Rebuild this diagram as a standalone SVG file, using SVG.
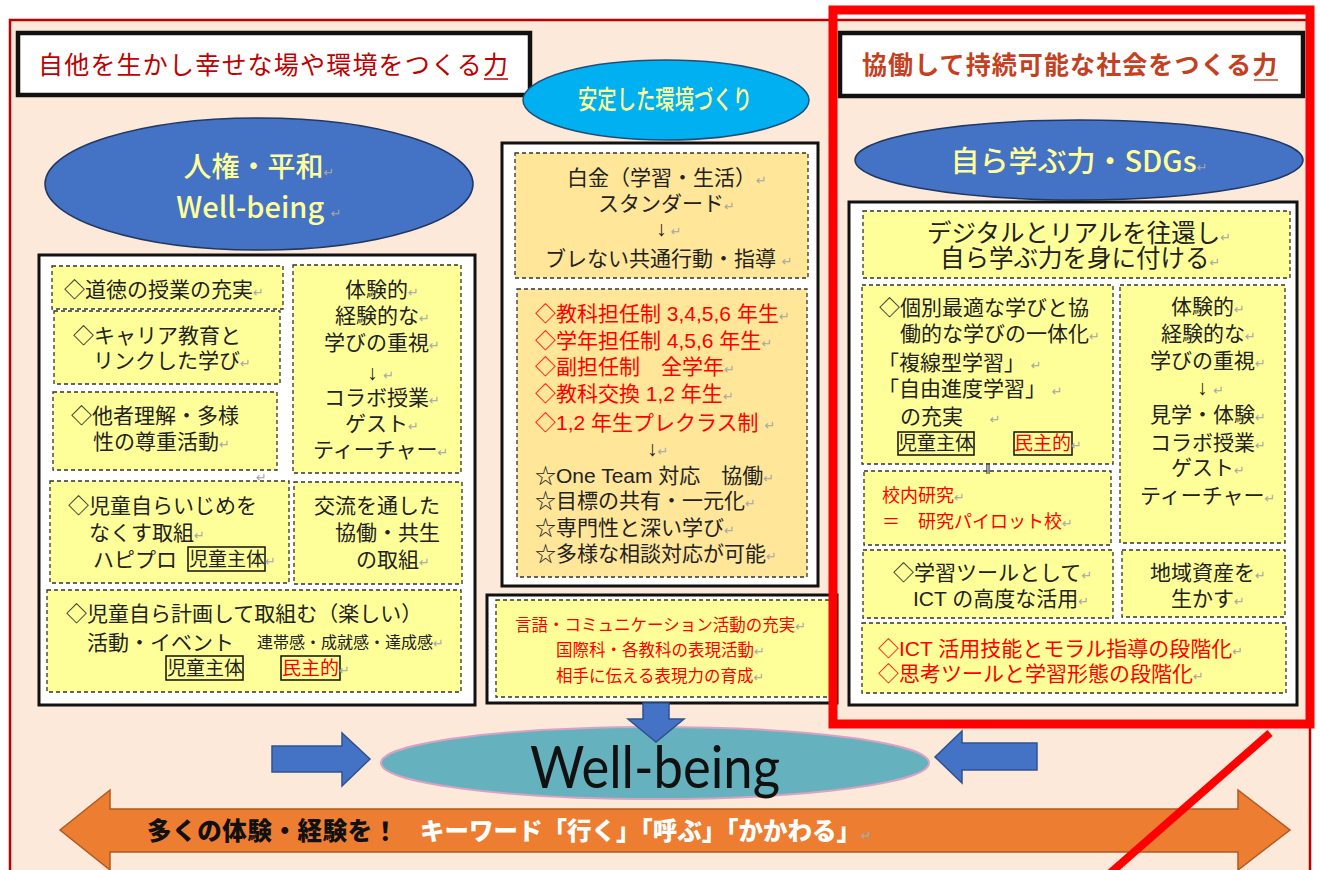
<svg xmlns="http://www.w3.org/2000/svg" width="1320" height="870" viewBox="0 0 1320 870">
<style>
.t{font-family:"Liberation Sans","Noto Sans CJK JP","Noto Sans CJK SC",sans-serif;font-size:21px;fill:#222}
.r{fill:#ff0000}
.k{fill:#222}
.s16{font-size:16.5px}
.s18{font-size:18px}
.s19{font-size:19px}
.rm{font-family:"DejaVu Sans",sans-serif;font-size:13px;fill:#a6a6a6}
.yb{fill:#ffff99;stroke:#333;stroke-width:1.3;stroke-dasharray:4 3}
.ob{fill:#ffe699;stroke:#333;stroke-width:1.3;stroke-dasharray:4 3}
.panel{fill:#fff;stroke:#111;stroke-width:3}
.hdr{fill:#fff;stroke:#111;stroke-width:4.5}
.lbl{fill:none;stroke:#111;stroke-width:1.5}
.et{font-family:"Noto Sans CJK JP",sans-serif;fill:#ffff99;font-weight:500}
.blue{fill:#4472c4;stroke:#1f3864;stroke-width:1.5}
.barrow{fill:#4472c4;stroke:#2f528f;stroke-width:1.5}
</style>
<rect x="0" y="0" width="1320" height="870" fill="#fff"/>
<rect id="frame" x="10" y="20" width="1300" height="870" fill="#fde9d9" stroke="#c00000" stroke-width="2.5"/>

<g id="header-left">
<rect class="hdr" x="18" y="33" width="512" height="62"/>
<text class="t" x="38" y="74" style="font-size:25px;letter-spacing:1.2px;fill:#c00000">自他を生かし幸せな場や環境をつくる力</text>
<line x1="484" y1="79" x2="508" y2="79" stroke="#c00000" stroke-width="1.5"/>
</g>

<g id="header-right">
<rect class="hdr" x="840" y="33" width="463" height="63"/>
<text class="t" x="862" y="74" style="font-size:25px;letter-spacing:1.1px;fill:#c4401e;font-weight:bold">協働して持続可能な社会をつくる力</text>
<line x1="1254" y1="80" x2="1278" y2="80" stroke="#c4401e" stroke-width="1.5"/>
</g>

<g id="ellipse-left">
<ellipse class="blue" cx="259" cy="184" rx="214" ry="66"/>
<text class="et" text-anchor="middle" style="font-size:28px"><tspan x="259" y="177">人権・平和<tspan class="rm">↵</tspan></tspan><tspan x="259" y="218" style="font-size:29px">Well-being <tspan class="rm">↵</tspan></tspan></text>
</g>

<g id="ellipse-center">
<ellipse cx="666" cy="100" rx="143" ry="40" fill="#00b0f0" stroke="#1f4e79" stroke-width="1.5"/>
<text class="et" x="578" y="109" textLength="174" lengthAdjust="spacingAndGlyphs" style="font-size:26px">安定した環境づくり</text>
</g>

<g id="ellipse-right">
<ellipse class="blue" cx="1079" cy="160" rx="224" ry="40"/>
<text class="et" x="1079" y="172" text-anchor="middle" style="font-size:29px">自ら学ぶ力・SDGs<tspan class="rm">↵</tspan></text>
</g>

<g id="panel-left">
<rect class="panel" x="39" y="255" width="436" height="450"/>
</g>
<g id="box-morals">
<rect class="yb" x="52" y="266" width="231" height="43"/>
<text class="t" x="64" y="297">◇道徳の授業の充実<tspan class="rm">↵</tspan></text>
</g>
<g id="box-career">
<rect class="yb" x="54" y="311" width="226" height="73"/>
<text class="t"><tspan x="73" y="343">◇キャリア教育と</tspan><tspan x="93" y="368">リンクした学び<tspan class="rm">↵</tspan></tspan></text>
</g>
<g id="box-diversity">
<rect class="yb" x="53" y="392" width="224" height="78"/>
<text class="t"><tspan x="71" y="423">◇他者理解・多様</tspan><tspan x="93" y="449">性の尊重活動<tspan class="rm">↵</tspan></tspan><tspan class="rm" x="256" y="482">↵</tspan></text>
</g>
<g id="box-experience-left">
<rect class="yb" x="293" y="265" width="168" height="208"/>
<text class="t"><tspan x="345" y="297">体験的<tspan class="rm">↵</tspan></tspan><tspan x="335" y="323">経験的な<tspan class="rm">↵</tspan></tspan><tspan x="324" y="350">学びの重視<tspan class="rm">↵</tspan></tspan><tspan x="367" y="380">↓ <tspan class="rm">↵</tspan></tspan><tspan x="324" y="405">コラボ授業<tspan class="rm">↵</tspan></tspan><tspan x="345" y="431">ゲスト<tspan class="rm">↵</tspan></tspan><tspan x="313" y="457">ティーチャー<tspan class="rm">↵</tspan></tspan></text>
</g>
<g id="box-bullying">
<rect class="yb" x="50" y="481" width="239" height="102"/>
<rect class="lbl" x="188" y="547" width="77" height="24"/>
<text class="t"><tspan x="68" y="513">◇児童自らいじめを</tspan><tspan x="89" y="540">なくす取組<tspan class="rm">↵</tspan></tspan><tspan x="93" y="567">ハピプロ</tspan><tspan class="s19" x="189" y="566">児童主体<tspan class="rm">↵</tspan></tspan></text>
</g>
<g id="box-exchange">
<rect class="yb" x="294" y="482" width="168" height="102"/>
<text class="t"><tspan x="314" y="513">交流を通した</tspan><tspan x="335" y="540">協働・共生</tspan><tspan x="356" y="567">の取組<tspan class="rm">↵</tspan></tspan></text>
</g>
<g id="box-activities">
<rect class="yb" x="47" y="590" width="414" height="102"/>
<rect class="lbl" x="166" y="656" width="77" height="24"/>
<rect class="lbl" x="281" y="656" width="59" height="24"/>
<text class="t"><tspan x="66" y="621">◇児童自ら計画して取組む（楽しい）</tspan><tspan x="87" y="650">活動・イベント</tspan><tspan x="257" y="648" style="font-size:16px">連帯感・成就感・達成感<tspan class="rm">↵</tspan></tspan><tspan class="s19" x="167" y="675">児童主体</tspan><tspan class="s19 r" x="282" y="675">民主的<tspan class="rm">↵</tspan></tspan></text>
</g>

<g id="panel-center">
<rect class="panel" x="502" y="143" width="316" height="443"/>
</g>
<g id="box-standard">
<rect class="ob" x="515" y="153" width="293" height="125"/>
<text class="t"><tspan x="567" y="185">白金（学習・生活）<tspan class="rm">↵</tspan></tspan><tspan x="598" y="211">スタンダード<tspan class="rm">↵</tspan></tspan><tspan x="656" y="236">↓<tspan class="rm"> ↵</tspan></tspan><tspan x="545" y="266">ブレない共通行動・指導 <tspan class="rm">↵</tspan></tspan></text>
</g>
<g id="box-system">
<rect class="ob" x="517" y="289" width="290" height="288"/>
<text class="t r"><tspan x="535" y="321">◇教科担任制 3,4,5,6 年生<tspan class="rm">↵</tspan></tspan><tspan x="535" y="348">◇学年担任制 4,5,6 年生<tspan class="rm">↵</tspan></tspan><tspan x="535" y="374">◇副担任制　全学年<tspan class="rm">↵</tspan></tspan><tspan x="535" y="401">◇教科交換 1,2 年生<tspan class="rm">↵</tspan></tspan><tspan x="535" y="430">◇1,2 年生プレクラス制 <tspan class="rm">↵</tspan></tspan><tspan class="k" x="647" y="456">↓<tspan class="rm">↵</tspan></tspan><tspan class="k" x="535" y="483">☆One Team 対応　協働<tspan class="rm">↵</tspan></tspan><tspan class="k" x="535" y="508">☆目標の共有・一元化<tspan class="rm">↵</tspan></tspan><tspan class="k" x="535" y="535">☆専門性と深い学び<tspan class="rm">↵</tspan></tspan><tspan class="k" x="535" y="561">☆多様な相談対応が可能<tspan class="rm">↵</tspan></tspan></text>
</g>

<g id="box-communication">
<rect class="panel" x="487" y="595" width="350" height="108"/>
<rect class="yb" x="496" y="600" width="334" height="97"/>
<text class="t s16 r"><tspan x="515" y="631">言語・コミュニケーション活動の充実<tspan class="rm">↵</tspan></tspan><tspan x="556" y="656">国際科・各教科の表現活動<tspan class="rm">↵</tspan></tspan><tspan x="556" y="682">相手に伝える表現力の育成<tspan class="rm">↵</tspan></tspan></text>
</g>

<g id="panel-right">
<rect class="panel" x="849" y="202" width="448" height="503"/>
</g>
<g id="box-digital">
<rect class="yb" x="863" y="211" width="427" height="67"/>
<text class="t" style="font-size:24.5px"><tspan x="927" y="242">デジタルとリアルを往還し<tspan class="rm">↵</tspan></tspan><tspan x="940" y="267">自ら学ぶ力を身に付ける<tspan class="rm">↵</tspan></tspan></text>
</g>
<g id="box-individual">
<rect class="yb" x="862" y="285" width="251" height="179"/>
<rect class="lbl" x="898" y="432" width="76" height="23"/>
<rect class="lbl" x="1014" y="432" width="58" height="23"/>
<text class="t"><tspan x="879" y="315">◇個別最適な学びと協</tspan><tspan x="900" y="341">働的な学びの一体化<tspan class="rm">↵</tspan></tspan><tspan x="878" y="370">「複線型学習」 <tspan class="rm">↵</tspan></tspan><tspan x="878" y="396">「自由進度学習」 <tspan class="rm">↵</tspan></tspan><tspan x="900" y="424">の充実　 <tspan class="rm">↵</tspan></tspan><tspan class="s19" x="898" y="450">児童主体</tspan><tspan class="s19 r" x="1014" y="450">民主的<tspan class="rm">↵</tspan></tspan></text>
</g>
<g id="box-research">
<rect class="yb" x="864" y="471" width="247" height="74"/>
<text class="t s18 r"><tspan x="985" y="474" style="font-size:14px;fill:#444">‖</tspan><tspan x="882" y="502">校内研究<tspan class="rm">↵</tspan></tspan><tspan x="882" y="528">＝　研究パイロット校<tspan class="rm">↵</tspan></tspan></text>
</g>
<g id="box-experience-right">
<rect class="yb" x="1120" y="285" width="165" height="258"/>
<text class="t"><tspan x="1171" y="314">体験的<tspan class="rm">↵</tspan></tspan><tspan x="1161" y="341">経験的な<tspan class="rm">↵</tspan></tspan><tspan x="1150" y="368">学びの重視<tspan class="rm">↵</tspan></tspan><tspan x="1197" y="395">↓ <tspan class="rm">↵</tspan></tspan><tspan x="1150" y="422">見学・体験<tspan class="rm">↵</tspan></tspan><tspan x="1150" y="450">コラボ授業<tspan class="rm">↵</tspan></tspan><tspan x="1171" y="475">ゲスト<tspan class="rm">↵</tspan></tspan><tspan x="1140" y="503">ティーチャー<tspan class="rm">↵</tspan></tspan></text>
</g>
<g id="box-ict">
<rect class="yb" x="863" y="550" width="250" height="68"/>
<text class="t"><tspan x="893" y="580">◇学習ツールとして<tspan class="rm">↵</tspan></tspan><tspan x="913" y="606">ICT の高度な活用<tspan class="rm">↵</tspan></tspan></text>
</g>
<g id="box-local">
<rect class="yb" x="1122" y="550" width="163" height="67"/>
<text class="t"><tspan x="1150" y="580">地域資産を<tspan class="rm">↵</tspan></tspan><tspan x="1171" y="606">生かす<tspan class="rm">↵</tspan></tspan></text>
</g>
<g id="box-stages">
<rect class="yb" x="862" y="623" width="424" height="70"/>
<text class="t r"><tspan x="878" y="656">◇ICT 活用技能とモラル指導の段階化<tspan class="rm">↵</tspan></tspan><tspan x="878" y="681">◇思考ツールと学習形態の段階化<tspan class="rm">↵</tspan></tspan></text>
</g>

<g id="wellbeing">
<ellipse cx="655" cy="763" rx="274" ry="36" fill="#65b1bd" stroke="#d6a3c4" stroke-width="2"/>
<text x="530" y="788" textLength="250" lengthAdjust="spacingAndGlyphs" style="font-family:Lato,'Open Sans',sans-serif;font-size:58px;fill:#111">Well-being</text>
</g>

<g id="connectors">
<polygon class="barrow" points="643,703 669,703 669,719 684,719 656,742 628,719 643,719"/>
<polygon class="barrow" points="272,746 342,746 342,733 370,759 342,786 342,772 272,772"/>
<polygon class="barrow" points="1037,743 962,743 962,731 935,757 962,783 962,770 1037,770"/>
<polygon points="60,830 110,790 110,809 1238,809 1238,790 1290,830 1238,870 1238,852 110,852 110,870" fill="#ed7d31" stroke="#ae5a21" stroke-width="1.5"/>
<text class="t" style="font-size:24.5px;font-weight:900"><tspan x="147" y="840" style="fill:#111;letter-spacing:0.6px">多くの体験・経験を！</tspan><tspan x="420" y="840" style="fill:#fff">キーワード「行く」「呼ぶ」「かかわる」<tspan class="rm">↵</tspan></tspan></text>
</g>

<g id="highlight">
<rect x="833" y="10" width="477" height="714" fill="none" stroke="#ff0000" stroke-width="9"/>
<line x1="1270" y1="733" x2="1108" y2="875" stroke="#ff0000" stroke-width="8"/>
</g>
</svg>
